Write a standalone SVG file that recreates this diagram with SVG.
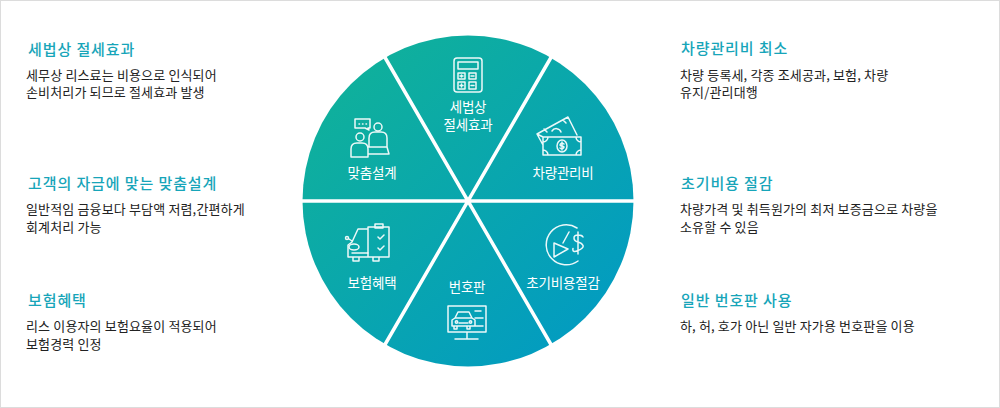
<svg xmlns="http://www.w3.org/2000/svg" width="1000" height="408" viewBox="0 0 1000 408">
<style>
text{font-family:"Noto Sans CJK KR","Noto Sans",sans-serif}
.t{font-size:15px;font-weight:500;fill:#17a5b9;letter-spacing:.9px}
.b{font-size:13px;fill:#222;letter-spacing:.15px}
.l{font-size:13.500px;fill:#fff;text-anchor:middle;letter-spacing:-.2px}
.i{fill:none;stroke:#fff;stroke-width:1.500;stroke-linejoin:round;stroke-linecap:round;opacity:.92}
.d{stroke:#fff;stroke-width:3.500;fill:none}
</style>
<defs><linearGradient id="g" gradientUnits="userSpaceOnUse" x1="340" y1="60" x2="600" y2="340"><stop offset="0" stop-color="#10b19a"/><stop offset="1" stop-color="#029bc2"/></linearGradient></defs>
<rect x=".5" y=".5" width="999" height="407" fill="#fff" stroke="#dcdcdc"/>
<circle id="pie" cx="468" cy="201" r="165.500" fill="url(#g)"/>
<g id="dividers"><path class="d" d="M300 201H636M383 54 553 348M553 54 383 348"/></g>
<g id="node-tax"><path class="i" d="M457 58h22a3 3 0 0 1 3 3v28a3 3 0 0 1-3 3h-22a3 3 0 0 1-3-3V61a3 3 0 0 1 3-3zM458 62h20v7h-20zM458 73h7v6h-7zM469 73h7v6h-7zM458 82h7v7h-7zM469 82h7v7h-7zM461.500 75v2M460 76h3M471 76h3M460 85.500h3M461.500 84v3M471 85.500h3"/><text class="l" x="468" y="112">세법상</text><text class="l" x="468" y="130">절세효과</text></g>
<g id="node-cost"><path class="i" d="M543 137 537 134 568 117 577 135M543 137h38v18h-38zM543 142a5 5 0 0 0 5-5M581 142a5 5 0 0 1-5-5M543 150a5 5 0 0 1 5 5M581 150a5 5 0 0 0-5 5M537 134l6 11M552 131a5 5 0 0 1 9 1M544 129l3 3M563 120l3 3"/><ellipse class="i" cx="562" cy="146" rx="5" ry="6"/><path class="i" d="M564 144q-2-1.500-3.500 0t1.500 2 1.500 2-3.500 0M562 142v8" stroke-width="1"/><text class="l" x="563" y="178">차량관리비</text></g>
<g id="node-design"><path class="i" d="M355 119h15v9h-2l1 2-4-2h-10zM359 124h.5M362.500 124h.5M366 124h.5M351 157v-8q0-6 6-6h5q6 0 6 6v8zM369 147v-9q0-6 6-6h6q6 0 6 6v9M369 147h18l2 7h-21"/><circle class="i" cx="360" cy="137" r="4"/><circle class="i" cx="378" cy="127" r="4"/><text class="l" x="372" y="178">맞춤설계</text></g>
<g id="node-insurance"><path class="i" d="M368 229h-10l-6 13-4 3v12h20M368 227h21v30h-21zM375 224h8v4h-8zM353 257v4h6v-4M373 257v4h6v-4M378 237l2 2 4-4M378 248l2 2 4-4M352 241l-3-2"/><circle class="i" cx="347" cy="238" r="1.500"/><ellipse class="i" cx="354" cy="247" rx="5" ry="3"/><path class="i" d="M352 253h16"/><text class="l" x="372" y="288">보험혜택</text></g>
<g id="node-plate"><path class="i" d="M448 306h38v26h-38zM467 332v7M455 339h23M455 318l3-6h11l3 6M452 320l3-2h17l3 2v6h-23zM454 326v3h3v-3M467 326v3h3v-3M475 311h6M475 318h8M473 326h10M459 323h9"/><circle class="i" cx="456.500" cy="322" r="1.200"/><circle class="i" cx="470.500" cy="322" r="1.200"/><text class="l" x="467" y="292">번호판</text></g>
<g id="node-initial"><path class="i" d="M577 228a20 20 0 1 0 1 33M563 243l6-11M554 243l14 6-14 8zM578 232v22M583 237q-1-2-5-2t-4 3 4 4 5 3.500-5 5-5-2"/><text class="l" x="563" y="288">초기비용절감</text></g>
<g id="text-1"><text class="t" x="28" y="55">세법상 절세효과</text><text class="b" x="26" y="80">세무상 리스료는 비용으로 인식되어</text><text class="b" x="26" y="97">손비처리가 되므로 절세효과 발생</text></g>
<g id="text-2"><text class="t" x="28" y="189">고객의 자금에 맞는 맞춤설계</text><text class="b" x="26" y="214">일반적임 금융보다 부담액 저렴,간편하게</text><text class="b" x="26" y="232">회계처리 가능</text></g>
<g id="text-3"><text class="t" x="28" y="306">보험혜택</text><text class="b" x="26" y="331">리스 이용자의 보험요율이 적용되어</text><text class="b" x="26" y="349">보험경력 인정</text></g>
<g id="text-4"><text class="t" x="681" y="54">차량관리비 최소</text><text class="b" x="680" y="80">차량 등록세, 각종 조세공과, 보험, 차량</text><text class="b" x="680" y="97">유지/관리대행</text></g>
<g id="text-5"><text class="t" x="681" y="189">초기비용 절감</text><text class="b" x="680" y="214">차량가격 및 취득원가의 최저 보증금으로 차량을</text><text class="b" x="680" y="232">소유할 수 있음</text></g>
<g id="text-6"><text class="t" x="681" y="306">일반 번호판 사용</text><text class="b" x="680" y="331">하, 허, 호가 아닌 일반 자가용 번호판을 이용</text></g>
</svg>
